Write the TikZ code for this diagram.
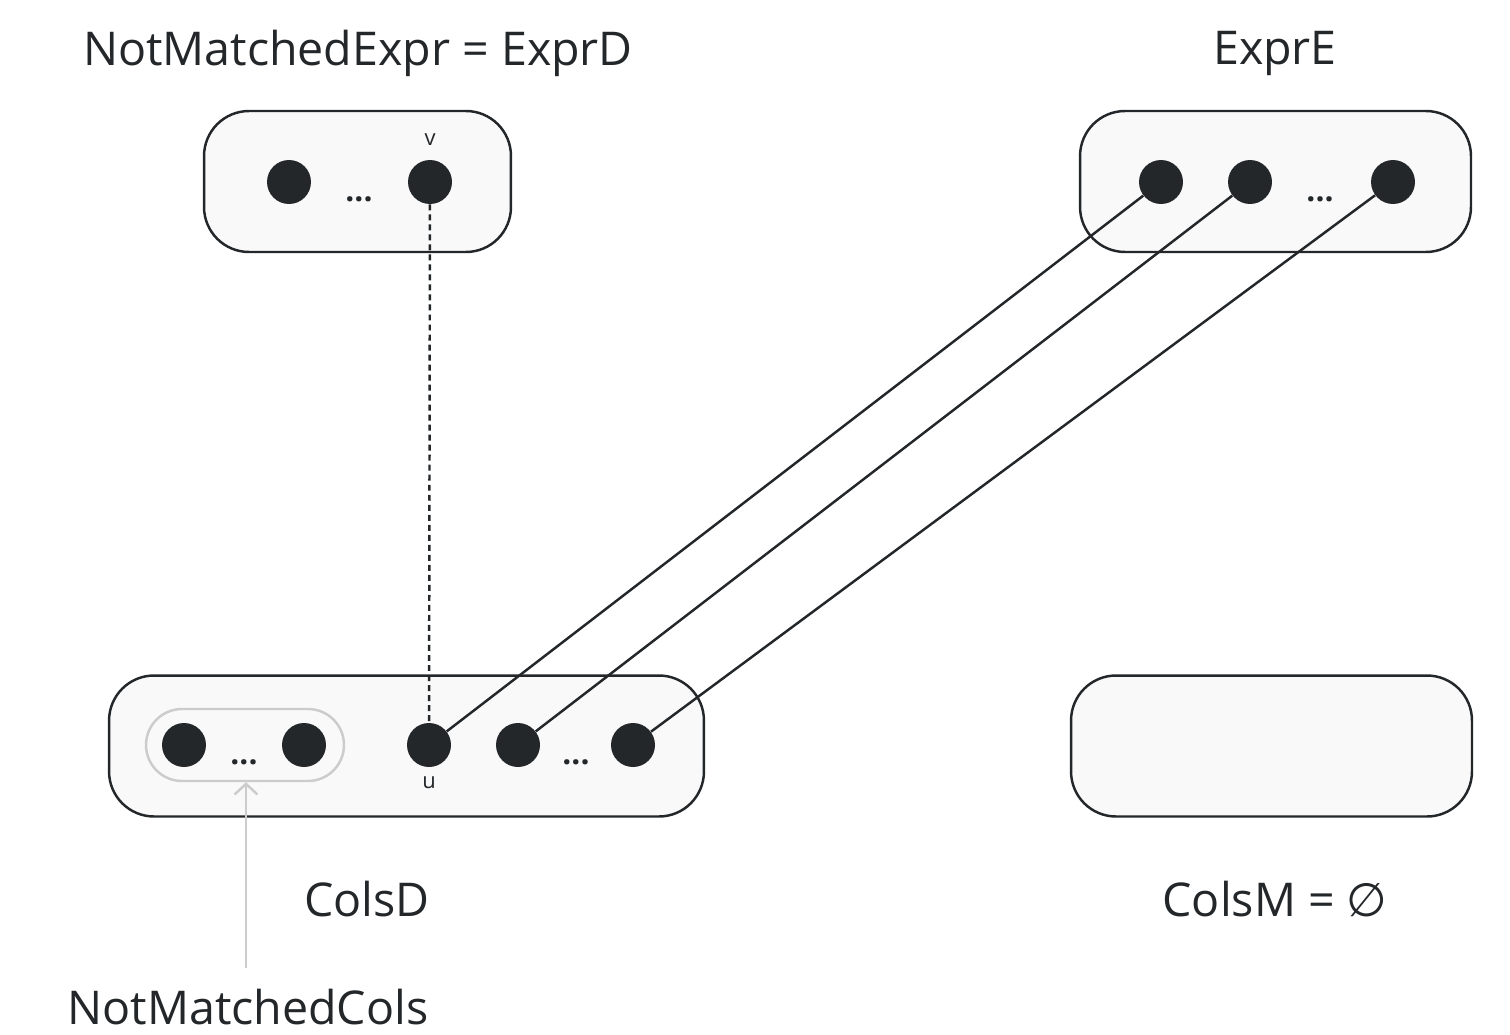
\documentclass[tikz,border=0pt]{standalone}
\usepackage{fontspec}
\setmainfont{Open Sans}
\newfontfamily\symfont{DejaVu Sans}
\usetikzlibrary{arrows.meta,positioning}
\definecolor{ink}{HTML}{23272A}
\definecolor{boxfill}{HTML}{F9F9F9}
\definecolor{soft}{HTML}{CCCCCC}

\begin{document}
\begin{tikzpicture}[
    x=0.02cm, y=-0.02cm,
    grp/.style={draw=ink, line width=1.4pt, fill=boxfill, rounded corners=0.9cm, minimum height=2.82cm},
    sub/.style={draw=soft, line width=1.4pt, rounded corners=0.72cm, minimum height=1.44cm, minimum width=3.96cm},
    pt/.style={circle, fill=ink, inner sep=0pt, minimum size=0.88cm},
    more/.style={font=\fontsize{18}{18}\selectfont\bfseries, text=ink, inner sep=0pt},
    tag/.style={font=\fontsize{12.5}{12.5}\selectfont, text=ink, inner sep=0pt},
    title/.style={font=\fontsize{26.5}{26.5}\selectfont, text=ink, inner sep=0pt},
    link/.style={draw=ink, line width=1.4pt},
    hint/.style={draw=soft, line width=1.4pt, -{Straight Barb[length=6pt, width=13pt]}}
]
\useasboundingbox (0,0) rectangle (1510,1034);

% --- groups ---
\node[grp, minimum width=6.14cm] (exprd) at (357.5,181.5) {};
\node[grp, minimum width=7.82cm] (expre) at (1275.5,181.5) {};
\node[grp, minimum width=11.9cm] (colsd) at (406.5,746) {};
\node[grp, minimum width=8.02cm] (colsm) at (1271.5,746) {};
\node[sub] (nmcols) at (245,745) {};

% --- titles ---
\node[title] (tExprD) at (358,53)  {NotMatchedExpr = ExprD};
\node[title] (tExprE) at (1275,53) {ExprE};
\node[title] (tColsD) at (367,899) {ColsD};
\node[title] (tColsM) at (1275,899) {ColsM = {\symfont ∅}};
\node[title] (tNmc)   at (248,1007) {NotMatchedCols};

% --- ExprD ---
\node[pt] (d1) at (289,182) {};
\node[pt] (v)  at (430,182) {};
\node[more] at (359,199) {...};
\node[tag] (vlbl) at (430,140) {v};

% --- ExprE ---
\node[pt] (e1) at (1161,182) {};
\node[pt] (e2) at (1250,182) {};
\node[pt] (e3) at (1393,182) {};
\node[more] at (1320,199) {...};

% --- ColsD ---
\node[pt] (c1) at (184,745) {};
\node[pt] (c2) at (304,745) {};
\node[more] at (244,762) {...};
\node[pt] (u)  at (429,745) {};
\node[pt] (c4) at (518,745) {};
\node[pt] (c5) at (633,745) {};
\node[more] at (576,762) {...};
\node[tag] (ulbl) at (429,783) {u};

% === links ===
\draw[link, dash pattern=on 3.4pt off 2.3pt] (v) -- (u);
\draw[link] (e1) -- (u);
\draw[link] (e2) -- (c4);
\draw[link] (e3) -- (c5);

% NotMatchedCols pointer
\coordinate (nmcfoot) at (246,968);
\draw[hint] (nmcfoot) -- (nmcols.south -| nmcfoot);

\end{tikzpicture}
\end{document}
